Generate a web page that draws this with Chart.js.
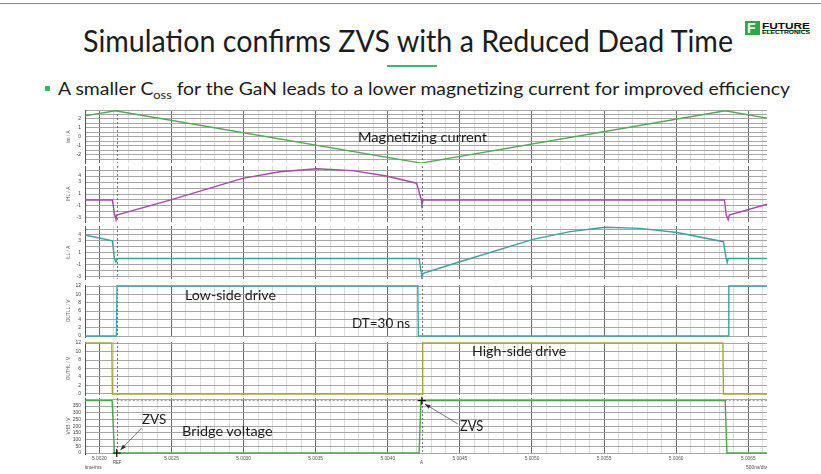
<!DOCTYPE html>
<html lang="en">
<head>
<meta charset="UTF-8">
<title>Simulation confirms ZVS with a Reduced Dead Time</title>
<script src="https://cdn.jsdelivr.net/npm/chart.js"></script>
<style>
  html, body { margin: 0; padding: 0; background: #fff; }
  body { width: 821px; height: 474px; position: relative; overflow: hidden;
         font-family: Lato, 'Open Sans', sans-serif; color: #1c1c1c; }
  canvas.panel { position: absolute; }
  .txt { position: absolute; white-space: nowrap; line-height: 1; transform-origin: 0 0; }
  .tiny { font-family: 'Liberation Sans', Arial, sans-serif; color: #444; }
  .txt sub { font-size: 0.66em; vertical-align: -0.38em; line-height: 0; }
  #topline { position: absolute; left: 0; top: 3px; width: 821px; height: 1px; background: #8a8a8a; }
  #underline { position: absolute; left: 387px; top: 65px; width: 50px; height: 2px; background: #45b868; }
  #bullet { position: absolute; left: 45px; top: 86px; width: 5px; height: 5px; background: #3db561; }
  #logoBox { position: absolute; left: 745px; top: 21px; width: 15px; height: 14px; background: #2aa84a; }
  #logoBox span { position: absolute; left: 2px; top: -1px; color: #fff; font: bold 14px 'Liberation Sans', Arial, sans-serif; }
  #logoLine { position: absolute; left: 762px; top: 29.5px; width: 48px; height: 1.4px; background: #2aa84a; }
  .logo { font-family: 'Liberation Sans', Arial, sans-serif; font-weight: bold; color: #111; }
</style>
</head>
<body>
<div id="topline"></div>

<div class="txt" data-x="83" data-base="51.7" data-size="30" data-w="650">Simulation confirms ZVS with a Reduced Dead Time</div>
<div id="underline"></div>
<div id="bullet"></div>
<div class="txt" data-x="58.3" data-base="95" data-size="16.3" data-w="732">A smaller C<sub>oss</sub> for the GaN leads to a lower magnetizing current for improved efficiency</div>

<div id="logoBox"><span>F</span></div>
<div class="txt logo" data-x="762" data-base="28.6" data-size="9.5" data-w="48">FUTURE</div>
<div id="logoLine"></div>
<div class="txt logo" data-x="762" data-base="35.2" data-size="4.6" data-w="48">ELECTRONICS</div>

<canvas class="panel" id="c1"></canvas>
<canvas class="panel" id="c2"></canvas>
<canvas class="panel" id="c3"></canvas>
<canvas class="panel" id="c4"></canvas>
<canvas class="panel" id="c5"></canvas>
<canvas class="panel" id="c6"></canvas>

<div class="txt" data-x="358" data-base="142" data-size="14" data-w="129">Magnetizing current</div>
<div class="txt" data-x="185" data-base="301" data-size="13.3" data-w="91">Low-side drive</div>
<div class="txt" data-x="352" data-base="328.3" data-size="14" data-w="58">DT=30 ns</div>
<div class="txt" data-x="471.7" data-base="356.7" data-size="13" data-w="94.3">High-side drive</div>
<div class="txt" data-x="141.7" data-base="424" data-size="14" data-w="24.3">ZVS</div>
<div class="txt" data-x="181.7" data-base="436.7" data-size="13" data-w="90.6">Bridge voltage</div>
<div class="txt" data-x="460" data-base="431.7" data-size="14.5" data-w="23.3">ZVS</div>

<div class="txt tiny" data-x="113.3" data-base="464" data-size="5" data-w="8.4">REF</div>
<div class="txt tiny" data-x="420.3" data-base="464" data-size="5" data-w="3">A</div>
<div class="txt tiny" data-x="85" data-base="469.5" data-size="5" data-w="16.5">time/ms</div>
<div class="txt tiny" data-x="746" data-base="469" data-size="5" data-w="21">500ns/div</div>

<script>
// time axis (ms)
const xTickLabels = ['5.0020', '5.0025', '5.0030', '5.0035', '5.0040', '5.0045', '5.0050', '5.0055', '5.0060', '5.0065'];
const xMin = 5.00190, xMax = 5.00663;
const refTime = 5.00212, aTime = 5.004236;

// magnetizing current Im / A
const imTime  = [5.00190, 5.00211, 5.00423, 5.00634, 5.00663];
const imValue = [2.35, 2.92, -2.9, 2.92, 2.1];

// high-side switch current IHL / A
const ihlTime  = [5.00190, 5.002090, 5.002104, 5.002115, 5.002119, 5.002507, 5.002993, 5.003250, 5.003507,
                  5.003757, 5.003990, 5.004200, 5.004233, 5.004236, 5.004245, 5.006335, 5.006347, 5.006361,
                  5.006368, 5.00663];
const ihlValue = [0, 0, -2.3, -3.3, -2.5, 0.1, 3.6, 4.7, 5.2,
                  4.9, 4.0, 2.8, 0, -0.8, 0, 0, -2.5, -3.3,
                  -2.5, -0.7];

// low-side switch current ILL / A
const illTime  = [5.00190, 5.002090, 5.002104, 5.002115, 5.002122, 5.004217, 5.004233, 5.004236, 5.004245,
                  5.004500, 5.005007, 5.005264, 5.005507, 5.005750, 5.006005, 5.006328, 5.006347, 5.006354,
                  5.006361, 5.00663];
const illValue = [4.0, 3.0, 0, -0.6, 0, 0, -2.5, -3.35, -2.5,
                  -0.55, 3.25, 4.55, 5.3, 5.1, 4.4, 2.85, 0, -0.7,
                  0, 0];

// gate drives / V
const lowTime   = [5.00190, 5.002118, 5.002122, 5.004208, 5.004212, 5.006361, 5.006365, 5.00663];
const lowValue  = [0, 0, 12, 12, 0, 0, 12, 12];
const highTime  = [5.00190, 5.002086, 5.002090, 5.004238, 5.004242, 5.006324, 5.006328, 5.00663];
const highValue = [12, 12, 0, 0, 12, 12, 0, 0];

// bridge voltage VHB / V
const vhbTime  = [5.00190, 5.002088, 5.002104, 5.004217, 5.004230, 5.006340, 5.006352, 5.00663];
const vhbValue = [390, 390, 0, 0, 390, 390, 0, 0];
const vhbCursorLevel = 390;

// ZVS arrows: [time, volts] tail -> tip
const zvsArrows = [
  { from: [5.002292, 186], to: [5.002146, 22] },
  { from: [5.004486, 216], to: [5.004257, 365] },
];

const panels = [
  { id: 'c1', top: 110, bottom: 163, min: -2.89, max: 3.0,  step: 0.5, shown: [-2, -1, 0, 1, 2], title: 'Im / A',    t: imTime,   v: imValue,   color: '#53a853' },
  { id: 'c2', top: 166, bottom: 222, min: -3.67, max: 5.67, step: 1,   shown: [-3, -1, 1, 3, 4], title: 'IHL / A',   t: ihlTime,  v: ihlValue,  color: '#a44aa8' },
  { id: 'c3', top: 226, bottom: 279, min: -3.47, max: 5.51, step: 1,   shown: [-3, -1, 1, 3, 4], title: 'ILL / A',   t: illTime,  v: illValue,  color: '#3f9fa1' },
  { id: 'c4', top: 285, bottom: 337, min: -0.24, max: 12.24, step: 2,  shown: [0, 2, 4, 6, 8, 10, 12], title: 'OUTLL / V', t: lowTime,  v: lowValue,  color: '#3fa3a8' },
  { id: 'c5', top: 342, bottom: 395, min: -0.24, max: 12.24, step: 2,  shown: [0, 2, 4, 6, 8, 10, 12], title: 'OUTHL / V', t: highTime, v: highValue, color: '#aca633' },
  { id: 'c6', top: 398, bottom: 454, min: -7.4, max: 409.6, step: 50,  shown: [0, 50, 100, 150, 200, 250, 300, 350], title: 'VHB / V', t: vhbTime, v: vhbValue, color: '#47a847', bottomAxis: true },
];

const majors = xTickLabels.map(Number);
const isMajor = v => majors.some(m => Math.abs(m - v) < 1e-8);
const xGrid = [];
for (let k = 50019; k <= 50066; k++) xGrid.push(k / 10000);

Chart.defaults.font.family = "'Liberation Sans', Arial, sans-serif";
Chart.defaults.font.size = 5;
Chart.defaults.color = '#444';

const PAD_TOP = 2, X_AXIS_H = 10, CANVAS_LEFT = 66, AXIS_W = 19, AREA_RIGHT = 767;

const cursorLines = {
  id: 'cursorLines',
  beforeDatasetsDraw(chart) {
    const { ctx, chartArea: { top, bottom }, scales: { x } } = chart;
    ctx.save();
    ctx.strokeStyle = '#555';
    ctx.lineWidth = 0.8;
    ctx.setLineDash([2, 2]);
    [refTime, aTime].forEach(t => {
      const px = Math.round(x.getPixelForValue(t)) + 0.5;
      ctx.beginPath();
      ctx.moveTo(px, top);
      ctx.lineTo(px, bottom);
      ctx.stroke();
    });
    ctx.restore();
  }
};

const zvsMarks = {
  id: 'zvsMarks',
  afterDatasetsDraw(chart) {
    const { ctx, scales: { x, y } } = chart;
    ctx.save();
    // cursor crosses
    ctx.strokeStyle = '#111';
    ctx.lineWidth = 1.2;
    [[refTime, 0], [aTime, vhbCursorLevel]].forEach(([t, v]) => {
      const px = x.getPixelForValue(t), py = y.getPixelForValue(v);
      ctx.beginPath();
      ctx.moveTo(px - 4, py); ctx.lineTo(px + 4, py);
      ctx.moveTo(px, py - 4); ctx.lineTo(px, py + 4);
      ctx.stroke();
    });
    // arrows
    ctx.strokeStyle = '#555';
    ctx.fillStyle = '#333';
    ctx.lineWidth = 0.8;
    zvsArrows.forEach(a => {
      const x0 = x.getPixelForValue(a.from[0]), y0 = y.getPixelForValue(a.from[1]);
      const x1 = x.getPixelForValue(a.to[0]), y1 = y.getPixelForValue(a.to[1]);
      const ang = Math.atan2(y1 - y0, x1 - x0);
      ctx.beginPath();
      ctx.moveTo(x0, y0); ctx.lineTo(x1, y1);
      ctx.stroke();
      ctx.beginPath();
      ctx.moveTo(x1, y1);
      ctx.lineTo(x1 - 6 * Math.cos(ang - 0.35), y1 - 6 * Math.sin(ang - 0.35));
      ctx.lineTo(x1 - 6 * Math.cos(ang + 0.35), y1 - 6 * Math.sin(ang + 0.35));
      ctx.closePath();
      ctx.fill();
    });
    ctx.restore();
  }
};

panels.forEach(p => {
  const canvas = document.getElementById(p.id);
  const areaH = p.bottom - p.top;
  const w = AREA_RIGHT + 1 - CANVAS_LEFT;
  const h = PAD_TOP + areaH + (p.bottomAxis ? X_AXIS_H : 2);
  canvas.width = w; canvas.height = h;
  canvas.style.width = w + 'px'; canvas.style.height = h + 'px';
  canvas.style.left = CANVAS_LEFT + 'px';
  canvas.style.top = (p.top - PAD_TOP) + 'px';

  const yTicks = [];
  for (let v = Math.ceil(p.min / p.step) * p.step; v <= p.max + 1e-9; v += p.step) yTicks.push(Math.round(v * 1e6) / 1e6);

  const datasets = [{
    data: p.t.map((t, i) => ({ x: t, y: p.v[i] })),
    borderColor: p.color,
    borderWidth: 1.4,
    pointRadius: 0,
    tension: 0,
    order: 1,
  }];
  if (p.bottomAxis) {
    datasets.push({
      data: [{ x: refTime, y: vhbCursorLevel }, { x: xMax, y: vhbCursorLevel }],
      borderColor: '#8c8c8c',
      borderWidth: 0.9,
      borderDash: [2, 2],
      pointRadius: 0,
      order: 2,
    });
  }

  new Chart(canvas, {
    type: 'line',
    data: { datasets },
    plugins: p.bottomAxis ? [cursorLines, zvsMarks] : [cursorLines],
    options: {
      responsive: false,
      animation: false,
      devicePixelRatio: window.devicePixelRatio || 1,
      layout: { padding: { top: PAD_TOP, right: 1, bottom: p.bottomAxis ? 0 : 2, left: 0 } },
      plugins: { legend: { display: false }, tooltip: { enabled: false } },
      scales: {
        x: {
          type: 'linear',
          min: xMin,
          max: xMax,
          afterBuildTicks: s => { s.ticks = xGrid.map(v => ({ value: v })); },
          afterFit: s => { s.height = p.bottomAxis ? X_AXIS_H : 0; s.paddingLeft = 0; s.paddingRight = 0; },
          border: { display: false },
          grid: {
            drawTicks: false,
            color: c => isMajor(c.tick.value) ? '#666' : '#dadada',
            lineWidth: 1,
          },
          ticks: {
            display: !!p.bottomAxis,
            autoSkip: false,
            maxRotation: 0,
            padding: 2,
            color: '#555',
            font: { size: 4.8 },
            callback: v => {
              const i = majors.findIndex(m => Math.abs(m - v) < 1e-8);
              return i >= 0 ? xTickLabels[i] : '';
            },
          },
        },
        y: {
          min: p.min,
          max: p.max,
          afterBuildTicks: s => { s.ticks = yTicks.map(v => ({ value: v })); },
          afterFit: s => { s.width = AXIS_W; s.paddingTop = 0; s.paddingBottom = 0; },
          border: { display: true, color: '#555', width: 1 },
          grid: { drawTicks: false, color: '#a6a6a6', lineWidth: 1 },
          title: { display: true, text: p.title, padding: 0, font: { size: 4.8 }, color: '#555' },
          ticks: {
            autoSkip: false,
            padding: 4,
            color: '#444',
            font: { size: 5 },
            callback: v => p.shown.some(s => Math.abs(s - v) < 1e-9) ? String(v) : '',
          },
        },
      },
    },
  });
});

// slide texts: place by baseline, then squeeze to the measured widths of the slide
const texts = Array.from(document.querySelectorAll('.txt'));
texts.forEach(el => {
  const size = +el.dataset.size;
  const asc = el.classList.contains('tiny') || el.classList.contains('logo') ? 0.8465 : 0.887;
  el.style.fontSize = size + 'px';
  el.style.left = el.dataset.x + 'px';
  el.style.top = (+el.dataset.base - asc * size) + 'px';
});
const fit = () => texts.forEach(el => {
  if (!el.dataset.w) return;
  el.style.transform = 'none';
  const w = el.getBoundingClientRect().width;
  if (w > 0) el.style.transform = `scaleX(${(+el.dataset.w / w).toFixed(4)})`;
});
fit();
if (document.fonts && document.fonts.ready) document.fonts.ready.then(fit);
</script>
</body>
</html>
